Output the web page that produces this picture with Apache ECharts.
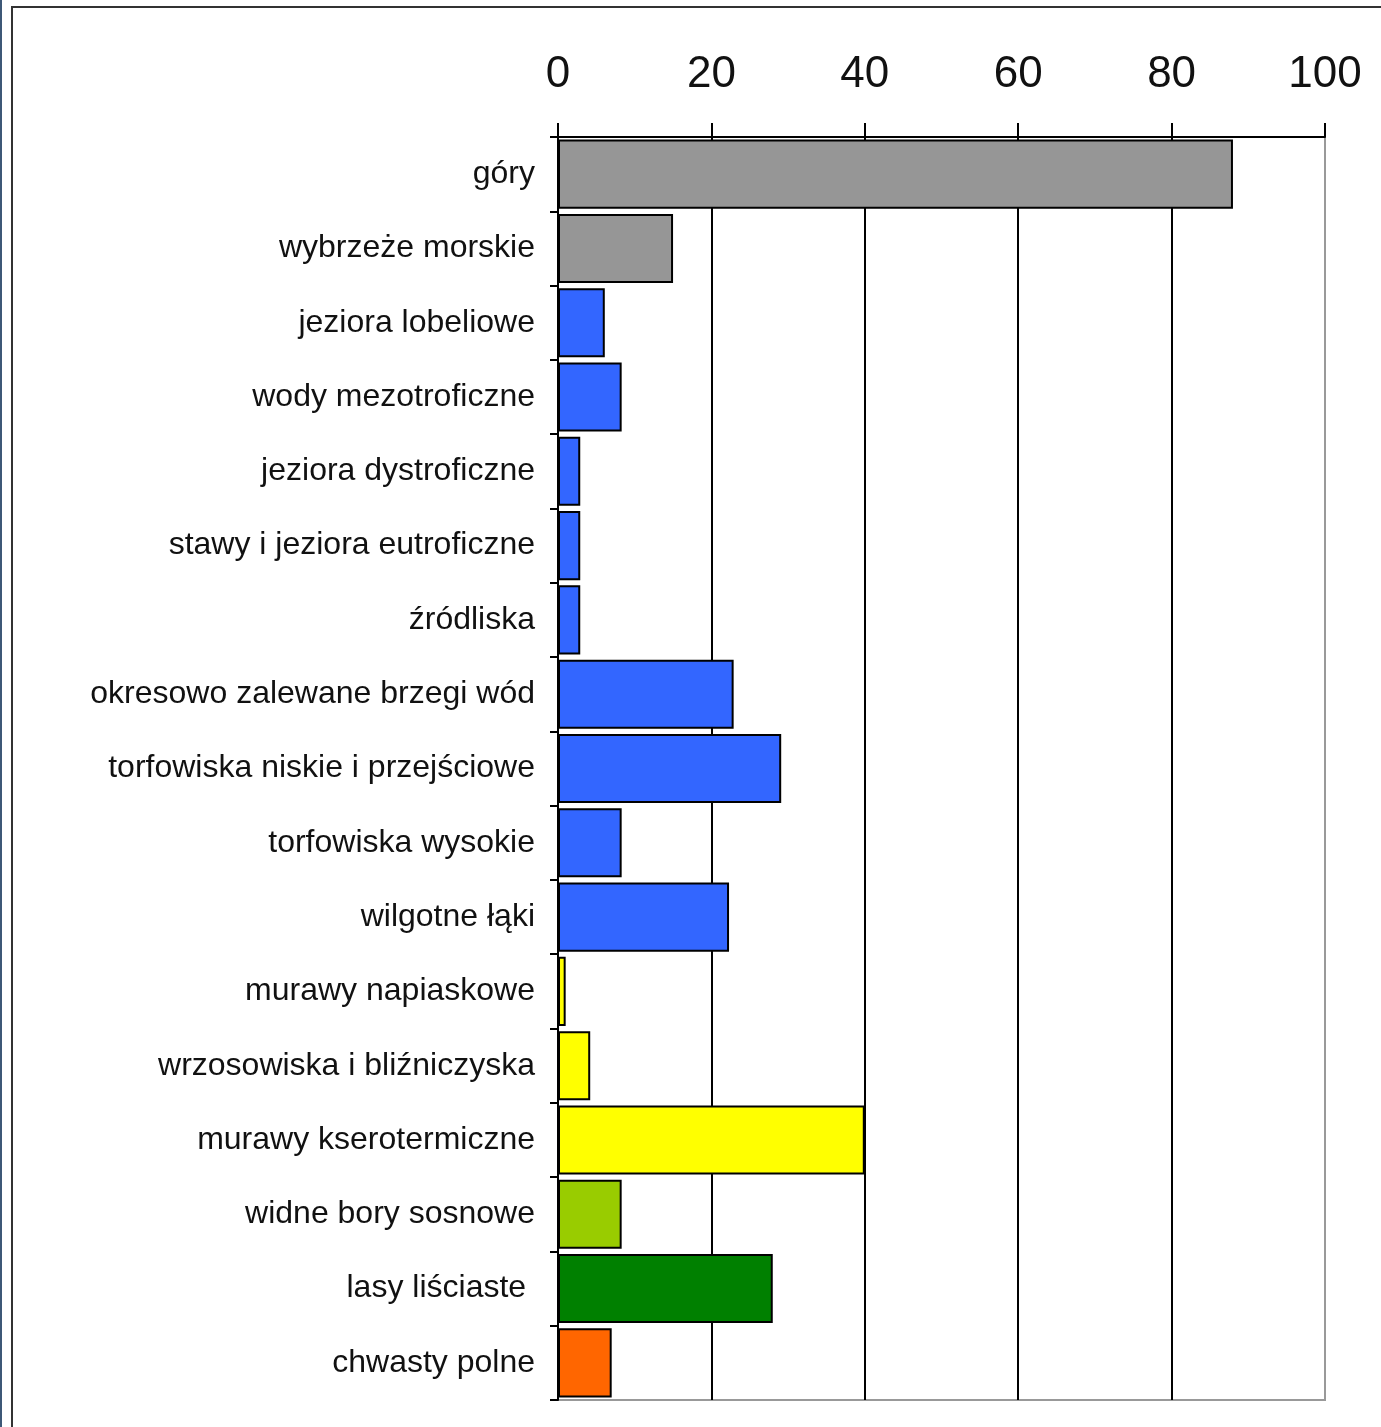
<!DOCTYPE html>
<html>
<head>
<meta charset="utf-8">
<style>
  html, body { margin: 0; padding: 0; background: #fff; overflow: hidden; }
  #strip { position: absolute; left: 0; top: 0; width: 2px; height: 1427px; background: #3d5877; }
  #frame { position: absolute; left: 11px; top: 6px; width: 1400px; height: 1450px;
           border-left: 2px solid #333; border-top: 2px solid #333; }
  #chart { position: absolute; left: 0; top: 0; width: 1381px; height: 1427px; }
</style>
<script src="https://cdn.jsdelivr.net/npm/echarts@6/dist/echarts.min.js"></script>
</head>
<body>
<div id="strip"></div>
<div id="frame"></div>
<div id="chart"></div>
<script>
const categories = [
  'góry',
  'wybrzeże morskie',
  'jeziora lobeliowe',
  'wody mezotroficzne',
  'jeziora dystroficzne',
  'stawy i jeziora eutroficzne',
  'źródliska',
  'okresowo zalewane brzegi wód',
  'torfowiska niskie i przejściowe',
  'torfowiska wysokie',
  'wilgotne łąki',
  'murawy napiaskowe',
  'wrzosowiska i bliźniczyska',
  'murawy kserotermiczne',
  'widne bory sosnowe',
  'lasy liściaste ',
  'chwasty polne'
];
const values = [88, 15, 6.1, 8.3, 2.9, 2.9, 2.9, 22.9, 29.1, 8.3, 22.3, 1, 4.2, 40, 8.3, 28, 7];
const barColors = [
  '#969696', '#969696',
  '#3366ff', '#3366ff', '#3366ff', '#3366ff', '#3366ff', '#3366ff', '#3366ff', '#3366ff', '#3366ff',
  '#ffff00', '#ffff00', '#ffff00',
  '#99cc00', '#008000', '#ff6600'
];
const xTicks = { min: 0, max: 100, interval: 20 };

const chart = echarts.init(document.getElementById('chart'), null, { renderer: 'canvas' });
chart.setOption({
  animation: false,
  grid: {
    left: 558, right: 56, top: 137, bottom: 27,
    show: true, borderColor: '#999', borderWidth: 2, backgroundColor: 'transparent'
  },
  xAxis: {
    type: 'value',
    position: 'top',
    min: xTicks.min, max: xTicks.max, interval: xTicks.interval,
    axisLine: { show: true, lineStyle: { color: '#000', width: 2 } },
    axisTick: { show: true, inside: false, length: 14, lineStyle: { color: '#000', width: 2 } },
    axisLabel: { margin: 40, fontFamily: 'Liberation Sans, Arial, sans-serif', fontSize: 44, color: '#111' },
    splitLine: { show: true, showMinLine: false, showMaxLine: false, lineStyle: { color: '#000', width: 2 } }
  },
  yAxis: {
    type: 'category',
    inverse: true,
    data: categories,
    axisLine: { show: true, lineStyle: { color: '#000', width: 2 } },
    axisTick: { show: true, inside: false, length: 8, lineStyle: { color: '#000', width: 2 } },
    axisLabel: { margin: 23, fontFamily: 'Liberation Sans, Arial, sans-serif', fontSize: 32, color: '#111' },
    splitLine: { show: false }
  },
  series: [{
    type: 'bar',
    barCategoryGap: '7%',
    data: values.map((v, i) => ({
      value: v,
      itemStyle: { color: barColors[i], borderColor: '#000', borderWidth: 2 }
    }))
  }]
});
</script>
</body>
</html>
